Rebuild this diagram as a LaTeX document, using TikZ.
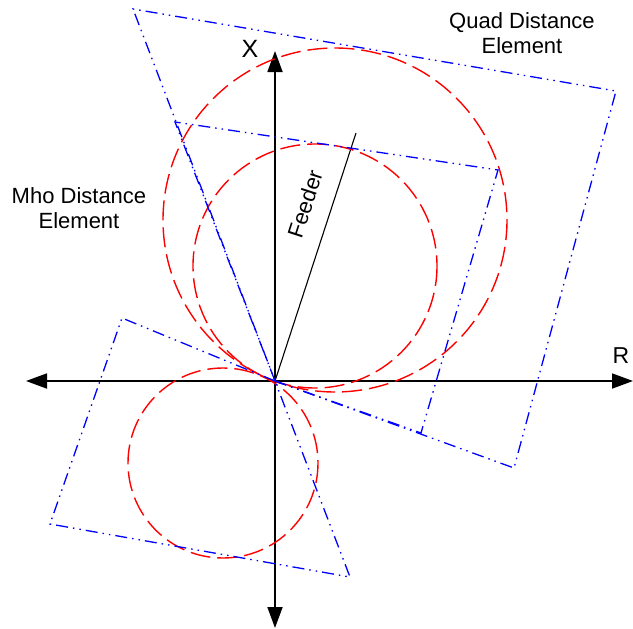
\documentclass[tikz,border=0pt]{standalone}
\usepackage{fontspec}
\setmainfont{Liberation Sans}
\usetikzlibrary{arrows.meta}

\tikzset{
  axis/.style={line width=1.8pt,-{Triangle[length=21pt,width=15pt]}},
  mho/.style={red,line width=1.4pt,dash pattern=on 20pt off 7pt},
  quad/.style={blue,line width=1.3pt,dash pattern=on 12pt off 5pt on 1.5pt off 5pt on 1.5pt off 5pt},
  lbl/.style={font=\fontsize{22}{25}\selectfont,align=center,inner sep=0pt}
}

\begin{document}
\begin{tikzpicture}[x=1pt,y=-1pt]
\useasboundingbox (0,0) rectangle (633,629);
\coordinate (O) at (275,381);
% axes
\draw[axis] (O)--(275,51) coordinate (xtop);
\draw[axis] (O)--(275,628) coordinate (xbot);
\draw[axis] (O)--(26,381) coordinate (rleft);
\draw[axis] (O)--(633,381) coordinate (rright);
\node[lbl,font=\fontsize{25}{28}\selectfont] (xlab) at (250,49) {X};
\node[lbl,font=\fontsize{23}{26}\selectfont] (rlab) at (621,356) {R};
% feeder
\draw[line width=1.1pt] (O)--(356,133) coordinate (fend);
\node[lbl,rotate=72] (feeder) at (305,204) {Feeder};
% mho circles
\draw[mho] (335,220) circle[radius=172];
\draw[mho] (315,266) circle[radius=122];
\draw[mho] (223,463) circle[radius=95];
% quad elements
\draw[quad] (O)--(514,468)--(616,91)--(133,9)--cycle;
\draw[quad] (O)--(421,433)--(498,170)--(175,122)--cycle;
\draw[quad] (O)--(122,318)--(50,524)--(350,577)--cycle;
% labels
\node[lbl] (quadlab) at (522,33) {Quad Distance\\Element};
\node[lbl] (mholab) at (79,208) {Mho Distance\\Element};
\end{tikzpicture}
\end{document}
